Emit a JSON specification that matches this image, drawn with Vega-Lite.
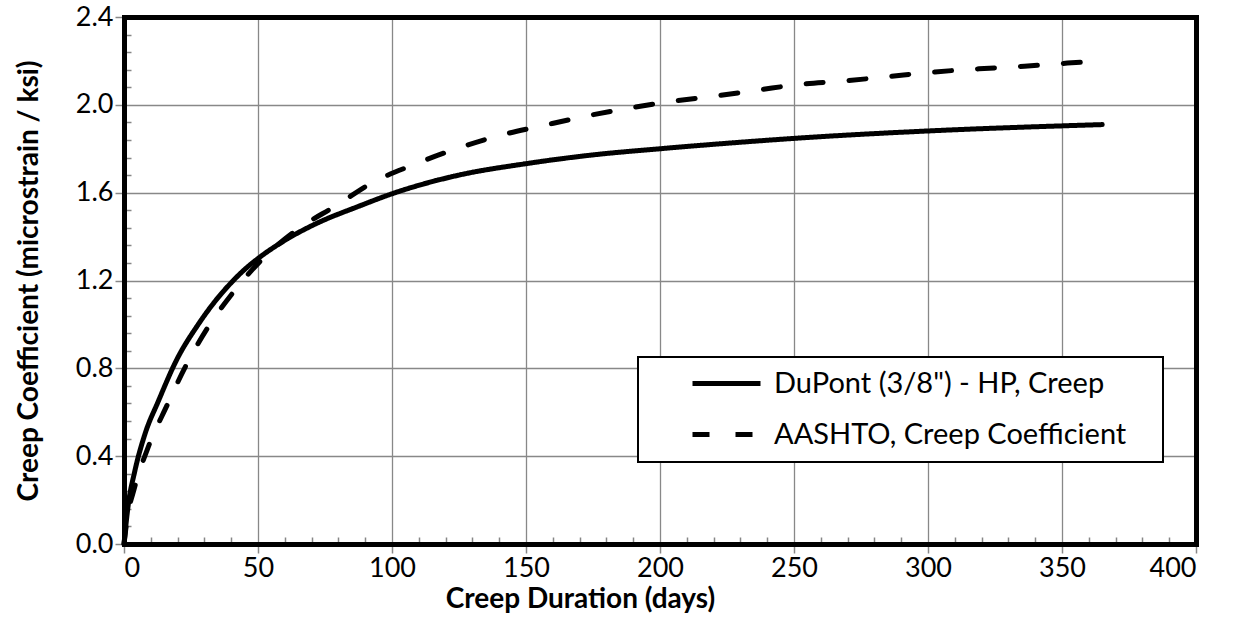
{
  "$schema": "https://vega.github.io/schema/vega-lite/v6.json",
  "width": 1072,
  "height": 527,
  "autosize": {"type": "none"},
  "padding": {"left": 124, "top": 17, "right": 39, "bottom": 90},
  "background": "white",
  "config": {
    "view": {"stroke": null},
    "font": "Lato",
    "axis": {"labelFont": "Lato", "titleFont": "Lato", "labelColor": "#000000", "titleColor": "#000000"},
    "legend": {"strokeWidth": 2}
  },
  "datasets": {
    "curves": [
      {"series": "DuPont (3/8\") - HP, Creep", "day": 0, "value": 0},
      {"series": "DuPont (3/8\") - HP, Creep", "day": 1.6, "value": 0.18},
      {"series": "DuPont (3/8\") - HP, Creep", "day": 4, "value": 0.33},
      {"series": "DuPont (3/8\") - HP, Creep", "day": 7.8, "value": 0.5},
      {"series": "DuPont (3/8\") - HP, Creep", "day": 12.8, "value": 0.65},
      {"series": "DuPont (3/8\") - HP, Creep", "day": 19.7, "value": 0.84},
      {"series": "DuPont (3/8\") - HP, Creep", "day": 27.7, "value": 1.0},
      {"series": "DuPont (3/8\") - HP, Creep", "day": 33, "value": 1.09},
      {"series": "DuPont (3/8\") - HP, Creep", "day": 40, "value": 1.19},
      {"series": "DuPont (3/8\") - HP, Creep", "day": 45, "value": 1.25},
      {"series": "DuPont (3/8\") - HP, Creep", "day": 50, "value": 1.3},
      {"series": "DuPont (3/8\") - HP, Creep", "day": 61, "value": 1.39},
      {"series": "DuPont (3/8\") - HP, Creep", "day": 71, "value": 1.455},
      {"series": "DuPont (3/8\") - HP, Creep", "day": 88, "value": 1.54},
      {"series": "DuPont (3/8\") - HP, Creep", "day": 100, "value": 1.595},
      {"series": "DuPont (3/8\") - HP, Creep", "day": 125, "value": 1.68},
      {"series": "DuPont (3/8\") - HP, Creep", "day": 150, "value": 1.732},
      {"series": "DuPont (3/8\") - HP, Creep", "day": 175, "value": 1.772},
      {"series": "DuPont (3/8\") - HP, Creep", "day": 200, "value": 1.8},
      {"series": "DuPont (3/8\") - HP, Creep", "day": 225, "value": 1.825},
      {"series": "DuPont (3/8\") - HP, Creep", "day": 256, "value": 1.852},
      {"series": "DuPont (3/8\") - HP, Creep", "day": 300, "value": 1.881},
      {"series": "DuPont (3/8\") - HP, Creep", "day": 365, "value": 1.91},
      {"series": "AASHTO, Creep Coefficient", "day": 0, "value": 0},
      {"series": "AASHTO, Creep Coefficient", "day": 1, "value": 0.1},
      {"series": "AASHTO, Creep Coefficient", "day": 4, "value": 0.26},
      {"series": "AASHTO, Creep Coefficient", "day": 9, "value": 0.44},
      {"series": "AASHTO, Creep Coefficient", "day": 16, "value": 0.63},
      {"series": "AASHTO, Creep Coefficient", "day": 23, "value": 0.81},
      {"series": "AASHTO, Creep Coefficient", "day": 31.5, "value": 0.99},
      {"series": "AASHTO, Creep Coefficient", "day": 41, "value": 1.15},
      {"series": "AASHTO, Creep Coefficient", "day": 51, "value": 1.29},
      {"series": "AASHTO, Creep Coefficient", "day": 65, "value": 1.435},
      {"series": "AASHTO, Creep Coefficient", "day": 79, "value": 1.54},
      {"series": "AASHTO, Creep Coefficient", "day": 93, "value": 1.648},
      {"series": "AASHTO, Creep Coefficient", "day": 108.6, "value": 1.73},
      {"series": "AASHTO, Creep Coefficient", "day": 124, "value": 1.8},
      {"series": "AASHTO, Creep Coefficient", "day": 140, "value": 1.86},
      {"series": "AASHTO, Creep Coefficient", "day": 156.5, "value": 1.906},
      {"series": "AASHTO, Creep Coefficient", "day": 173, "value": 1.95},
      {"series": "AASHTO, Creep Coefficient", "day": 189, "value": 1.986},
      {"series": "AASHTO, Creep Coefficient", "day": 204, "value": 2.015},
      {"series": "AASHTO, Creep Coefficient", "day": 220.5, "value": 2.04},
      {"series": "AASHTO, Creep Coefficient", "day": 237, "value": 2.068},
      {"series": "AASHTO, Creep Coefficient", "day": 252, "value": 2.093},
      {"series": "AASHTO, Creep Coefficient", "day": 270, "value": 2.11},
      {"series": "AASHTO, Creep Coefficient", "day": 286, "value": 2.13},
      {"series": "AASHTO, Creep Coefficient", "day": 302.6, "value": 2.15},
      {"series": "AASHTO, Creep Coefficient", "day": 319, "value": 2.164},
      {"series": "AASHTO, Creep Coefficient", "day": 336, "value": 2.176},
      {"series": "AASHTO, Creep Coefficient", "day": 352, "value": 2.19},
      {"series": "AASHTO, Creep Coefficient", "day": 365, "value": 2.2}
    ]
  },
  "data": {"name": "curves"},
  "resolve": {"axis": {"x": "independent", "y": "independent"}},
  "layer": [
    {
      "mark": {"type": "point", "opacity": 0},
      "encoding": {
        "x": {
          "field": "day", "type": "quantitative",
          "scale": {"domain": [0, 400], "nice": false, "zero": true},
          "axis": {
            "orient": "bottom",
            "values": [10,20,30,40,60,70,80,90,110,120,130,140,160,170,180,190,210,220,230,240,260,270,280,290,310,320,330,340,360,370,380,390],
            "tickSize": -7, "tickColor": "#868686", "tickWidth": 1.5,
            "labels": false, "grid": false, "domain": false, "title": null
          }
        },
        "y": {
          "field": "value", "type": "quantitative",
          "scale": {"domain": [0, 2.4], "nice": false},
          "axis": {
            "orient": "left",
            "values": [0.08,0.16,0.24,0.32,0.48,0.56,0.64,0.72,0.88,0.96,1.04,1.12,1.28,1.36,1.44,1.52,1.68,1.76,1.84,1.92,2.08,2.16,2.24,2.32],
            "tickSize": -7, "tickColor": "#868686", "tickWidth": 1.5,
            "labels": false, "grid": false, "domain": false, "title": null
          }
        }
      }
    },
    {
      "mark": {"type": "point", "opacity": 0},
      "encoding": {
        "x": {
          "field": "day", "type": "quantitative",
          "scale": {"domain": [0, 400], "nice": false},
          "axis": {
            "orient": "top", "values": [], "ticks": false, "labels": false, "grid": false,
            "domain": true, "domainColor": "#000000", "domainWidth": 5, "domainCap": "square", "title": null
          }
        },
        "y": {
          "field": "value", "type": "quantitative",
          "scale": {"domain": [0, 2.4], "nice": false},
          "axis": {
            "orient": "right", "values": [], "ticks": false, "labels": false, "grid": false,
            "domain": true, "domainColor": "#000000", "domainWidth": 5, "domainCap": "square", "title": null
          }
        }
      }
    },
    {
      "mark": {"type": "line", "color": "#000000", "strokeWidth": 5, "strokeCap": "round", "interpolate": "monotone"},
      "encoding": {
        "x": {
          "field": "day", "type": "quantitative",
          "scale": {"domain": [0, 400], "nice": false},
          "axis": {
            "orient": "bottom",
            "values": [0,50,100,150,200,250,300,350,400],
            "grid": true, "gridColor": "#888888", "gridWidth": 1.3,
            "tickSize": 9, "tickColor": "#888888", "tickWidth": 1.5,
            "domain": true, "domainColor": "#000000", "domainWidth": 5, "domainCap": "square",
            "labelFontSize": 27, "labelPadding": 2,
            "title": "Creep Duration (days)",
            "titleFontSize": 28, "titleFontWeight": "bold",
            "titleX": 456, "titlePadding": 4
          }
        },
        "y": {
          "field": "value", "type": "quantitative",
          "scale": {"domain": [0, 2.4], "nice": false},
          "axis": {
            "orient": "left",
            "values": [0,0.4,0.8,1.2,1.6,2.0,2.4],
            "format": ".1f",
            "grid": true, "gridColor": "#888888", "gridWidth": 1.3,
            "tickSize": 9, "tickColor": "#888888", "tickWidth": 1.5,
            "domain": true, "domainColor": "#000000", "domainWidth": 5, "domainCap": "square",
            "labelFontSize": 27, "labelPadding": 2,
            "title": "Creep Coefficient (microstrain / ksi)",
            "titleFontSize": 28, "titleFontWeight": "bold",
            "titlePadding": 32
          }
        },
        "strokeDash": {
          "field": "series", "type": "nominal",
          "scale": {
            "domain": ["DuPont (3/8\") - HP, Creep", "AASHTO, Creep Coefficient"],
            "range": [[1, 0], [17, 26]]
          },
          "legend": {
            "orient": "none", "legendX": 514, "legendY": 340,
            "title": "\u00a0", "titleOrient": "right", "titlePadding": 25, "titleFontSize": 10,
            "symbolType": "M-5.8,0H1", "symbolSize": 400, "symbolStrokeWidth": 5,
            "symbolStrokeColor": "#000000",
            "labelFontSize": 29, "labelFont": "Lato", "labelColor": "#000000",
            "labelOffset": 9, "labelLimit": 600,
            "rowPadding": 21,
            "padding": 12, "symbolOffset": 86,
            "strokeColor": "#000000", "fillColor": "#ffffff"
          }
        }
      }
    }
  ]
}
